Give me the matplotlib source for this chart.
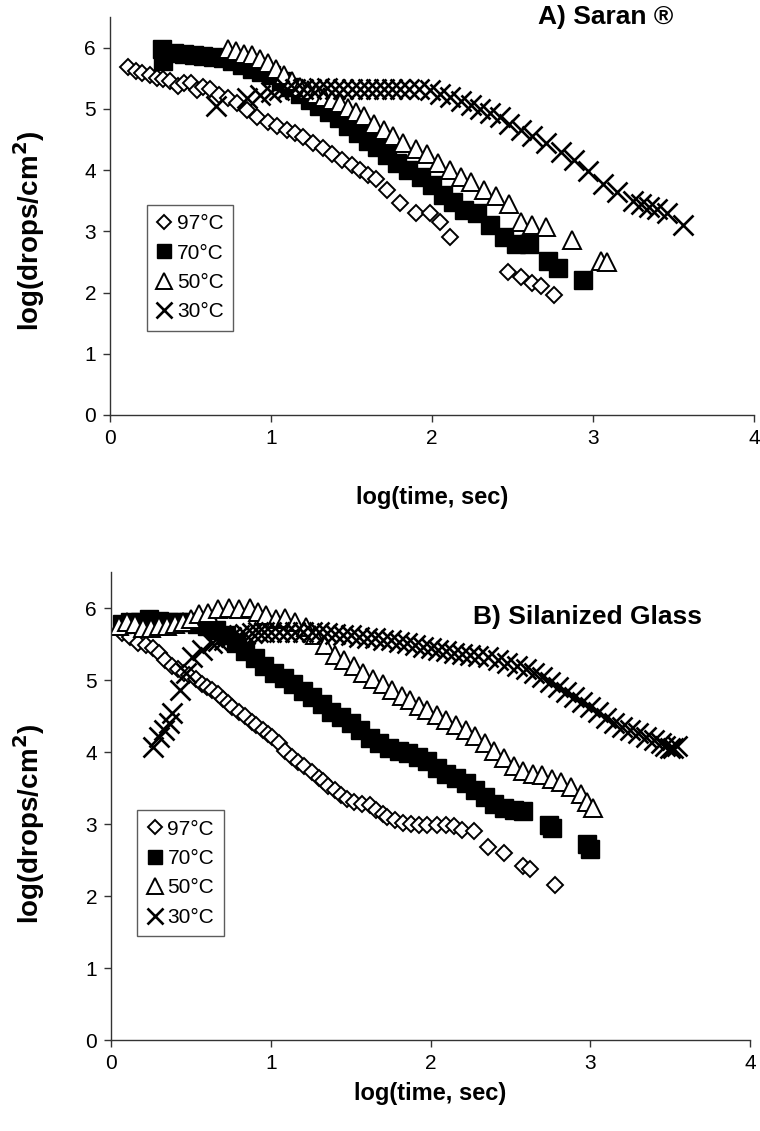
import matplotlib
matplotlib.use("Agg")
import matplotlib.pyplot as plt

plt.rcParams['font.family'] = ['Liberation Sans', 'DejaVu Sans']

# ---------------- Panel A: Saran ----------------
a97_x = [0.11, 0.16, 0.20, 0.25, 0.29, 0.33, 0.37, 0.42, 0.46, 0.50, 0.54, 0.58, 0.62, 0.68,
         0.73, 0.79, 0.85, 0.91, 0.98, 1.04, 1.10, 1.15, 1.20, 1.26, 1.32, 1.38, 1.44, 1.50,
         1.55, 1.60, 1.65, 1.72, 1.80, 1.90, 1.99, 2.05, 2.11, 2.47, 2.55, 2.62, 2.68, 2.76]
a97_y = [5.69, 5.62, 5.58, 5.55, 5.51, 5.48, 5.45, 5.38, 5.42, 5.43, 5.30, 5.35, 5.33, 5.22,
         5.18, 5.10, 4.98, 4.86, 4.78, 4.72, 4.65, 4.60, 4.54, 4.45, 4.36, 4.26, 4.16, 4.08,
         4.00, 3.92, 3.85, 3.68, 3.47, 3.30, 3.30, 3.15, 2.90, 2.33, 2.25, 2.15, 2.10, 1.96]

a70_x = [0.32, 0.33, 0.40, 0.46, 0.52, 0.58, 0.64, 0.70, 0.76, 0.82, 0.88, 0.94, 1.00, 1.06,
         1.12, 1.18, 1.24, 1.30, 1.36, 1.42, 1.48, 1.54, 1.60, 1.66, 1.72, 1.78, 1.85, 1.93,
         2.00, 2.07, 2.13, 2.20, 2.28, 2.36, 2.45, 2.52, 2.60, 2.72, 2.78, 2.94]
a70_y = [5.97, 5.78, 5.92, 5.90, 5.88, 5.87, 5.85, 5.83, 5.78, 5.72, 5.65, 5.60, 5.55, 5.45,
         5.35, 5.25, 5.15, 5.05, 4.95, 4.85, 4.72, 4.60, 4.48, 4.38, 4.25, 4.12, 4.00, 3.88,
         3.75, 3.60, 3.48, 3.35, 3.30, 3.10, 2.90, 2.80, 2.80, 2.52, 2.40, 2.20]

a50_x = [0.73, 0.78, 0.83, 0.88, 0.93, 0.98, 1.03, 1.08, 1.13, 1.18, 1.23, 1.28, 1.33, 1.38,
         1.43, 1.48, 1.53, 1.58, 1.64, 1.70, 1.76, 1.82, 1.90, 1.97, 2.04, 2.11, 2.18, 2.24,
         2.32, 2.40, 2.48, 2.55, 2.62, 2.71, 2.87, 3.05, 3.09]
a50_y = [5.98, 5.95, 5.90, 5.88, 5.82, 5.75, 5.65, 5.55, 5.45, 5.35, 5.30, 5.25, 5.20, 5.15,
         5.10, 5.02, 4.95, 4.88, 4.75, 4.65, 4.55, 4.45, 4.35, 4.27, 4.12, 4.00, 3.88, 3.80,
         3.68, 3.58, 3.45, 3.15, 3.10, 3.07, 2.85, 2.52, 2.50]

a30_x = [0.66, 0.85, 0.93, 1.00, 1.05, 1.10, 1.15, 1.20, 1.25, 1.30, 1.35, 1.40, 1.45, 1.50,
         1.55, 1.60, 1.65, 1.70, 1.75, 1.80, 1.86, 1.92, 1.99, 2.05, 2.11, 2.18, 2.24, 2.30,
         2.36, 2.42, 2.48, 2.55, 2.62, 2.71, 2.80, 2.88, 2.97, 3.06, 3.15, 3.25, 3.30, 3.35,
         3.40, 3.46, 3.56]
a30_y = [5.05, 5.17, 5.22, 5.27, 5.30, 5.32, 5.33, 5.33, 5.33, 5.34, 5.34, 5.33, 5.33, 5.33,
         5.33, 5.32, 5.32, 5.32, 5.32, 5.33, 5.33, 5.32, 5.30, 5.25, 5.19, 5.12, 5.06, 4.99,
         4.93, 4.86, 4.76, 4.65, 4.55, 4.44, 4.30, 4.16, 3.98, 3.78, 3.65, 3.50, 3.45, 3.40,
         3.37, 3.30, 3.10]

# ---------------- Panel B: Silanized Glass ----------------
b97_x = [0.07, 0.12, 0.17, 0.22, 0.26, 0.30, 0.34, 0.38, 0.42, 0.46, 0.49, 0.53, 0.57, 0.60,
         0.63, 0.67, 0.70, 0.73, 0.76, 0.80, 0.84, 0.88, 0.91, 0.95, 0.98, 1.01, 1.05, 1.09,
         1.13, 1.17, 1.21, 1.26, 1.30, 1.33, 1.36, 1.40, 1.44, 1.48, 1.52, 1.57, 1.62, 1.66,
         1.70, 1.73, 1.78, 1.83, 1.88, 1.93, 1.98, 2.04, 2.10, 2.15, 2.20, 2.27, 2.36, 2.46,
         2.58, 2.62, 2.78]
b97_y = [5.65, 5.60, 5.52, 5.48, 5.45, 5.38, 5.28, 5.20, 5.15, 5.10, 5.07, 5.02, 4.95, 4.90,
         4.86, 4.80, 4.74, 4.68, 4.63, 4.56, 4.50, 4.42, 4.37, 4.30, 4.25, 4.21, 4.12, 4.02,
         3.93, 3.86, 3.80, 3.72, 3.64, 3.60, 3.53, 3.47, 3.40, 3.35, 3.30, 3.28, 3.26, 3.20,
         3.14, 3.10, 3.05, 3.01, 3.00, 2.98, 2.99, 2.99, 2.99, 2.97, 2.92, 2.90, 2.68, 2.60,
         2.42, 2.37, 2.15]

b70_x = [0.07, 0.12, 0.18, 0.24, 0.30, 0.36, 0.42, 0.48, 0.54, 0.60, 0.66, 0.72, 0.78, 0.84,
         0.90, 0.96, 1.02, 1.08, 1.14, 1.20, 1.26, 1.32, 1.38, 1.44, 1.50, 1.56, 1.62, 1.68,
         1.74, 1.80, 1.86, 1.92, 1.98, 2.04, 2.10, 2.16, 2.22, 2.28, 2.34, 2.40, 2.46, 2.52,
         2.58, 2.74, 2.76, 2.98, 3.00]
b70_y = [5.78, 5.80, 5.80, 5.85, 5.82, 5.80, 5.80, 5.80, 5.78, 5.75, 5.70, 5.62, 5.52, 5.40,
         5.30, 5.20, 5.10, 5.03, 4.95, 4.85, 4.76, 4.66, 4.56, 4.48, 4.40, 4.30, 4.20, 4.12,
         4.06, 4.02, 3.98, 3.93, 3.88, 3.78, 3.70, 3.64, 3.57, 3.47, 3.37, 3.28, 3.22, 3.20,
         3.18, 2.98, 2.95, 2.72, 2.65]

b50_x = [0.05, 0.10, 0.15, 0.20, 0.25, 0.30, 0.35, 0.40, 0.45, 0.50, 0.55, 0.61, 0.67, 0.74,
         0.80, 0.87, 0.92, 0.97, 1.03, 1.09, 1.15, 1.22, 1.28, 1.34, 1.40, 1.46, 1.52, 1.58,
         1.64, 1.70, 1.76, 1.82, 1.87, 1.93, 1.98, 2.04, 2.10, 2.16, 2.22, 2.28, 2.34, 2.40,
         2.46, 2.52, 2.58, 2.64, 2.70, 2.76, 2.82, 2.88, 2.94, 2.98, 3.02]
b50_y = [5.75, 5.80, 5.78, 5.72, 5.72, 5.75, 5.75, 5.78, 5.80, 5.85, 5.92, 5.93, 5.98, 6.00,
         5.98, 6.00, 5.95, 5.90, 5.85, 5.86, 5.80, 5.74, 5.62, 5.48, 5.35, 5.28, 5.20, 5.10,
         5.02, 4.94, 4.86, 4.78, 4.72, 4.64, 4.58, 4.52, 4.44, 4.37, 4.30, 4.22, 4.12, 4.02,
         3.92, 3.80, 3.74, 3.70, 3.68, 3.62, 3.58, 3.52, 3.42, 3.30, 3.22]

b30_x = [0.26, 0.30, 0.33, 0.36, 0.38, 0.43, 0.47, 0.51, 0.57, 0.63, 0.67, 0.71, 0.75, 0.80,
         0.84, 0.88, 0.92, 0.96, 1.00, 1.05, 1.10, 1.15, 1.20, 1.26, 1.30, 1.35, 1.40, 1.45,
         1.50, 1.55, 1.60, 1.65, 1.70, 1.75, 1.80, 1.85, 1.90, 1.95, 2.00, 2.05, 2.10, 2.15,
         2.20, 2.25, 2.30, 2.36, 2.42, 2.48, 2.54, 2.60, 2.65, 2.70, 2.75, 2.80, 2.85, 2.90,
         2.95, 3.00, 3.05, 3.10, 3.15, 3.20, 3.25, 3.30, 3.35, 3.40, 3.44, 3.47, 3.50, 3.52,
         3.54]
b30_y = [4.07, 4.21, 4.30, 4.40, 4.54, 4.86, 5.10, 5.32, 5.42, 5.51, 5.54, 5.56, 5.60, 5.62,
         5.64, 5.65, 5.66, 5.66, 5.67, 5.67, 5.67, 5.67, 5.67, 5.67, 5.66, 5.65, 5.64, 5.63,
         5.62, 5.60, 5.59, 5.58, 5.56, 5.55, 5.53, 5.51, 5.49, 5.46, 5.44, 5.42, 5.40, 5.38,
         5.36, 5.35, 5.33, 5.32, 5.28, 5.24, 5.20, 5.15, 5.10, 5.04, 4.97, 4.90, 4.83, 4.77,
         4.70, 4.63, 4.55, 4.47, 4.40, 4.35, 4.30, 4.26, 4.21, 4.16, 4.12, 4.08, 4.05, 4.05,
         4.08]

labels = ["97°C", "70°C", "50°C", "30°C"]
xticks = [0, 1, 2, 3, 4]
yticks = [0, 1, 2, 3, 4, 5, 6]

W, H = 760, 1131
fig = plt.figure(figsize=(W / 100, H / 100), dpi=100)
ax1 = fig.add_axes([110 / W, 1 - 415 / H, 644 / W, 398 / H])
ax2 = fig.add_axes([111 / W, 1 - 1040 / H, 639 / W, 468 / H])

styles = [
    dict(marker='D', ms=8.5, mfc='white', mec='black', mew=1.4, ls='none'),
    dict(marker='s', ms=12.5, mfc='black', mec='black', mew=1.0, ls='none'),
    dict(marker='^', ms=13, mfc='white', mec='black', mew=1.4, ls='none'),
    dict(marker='x', ms=14, mfc='none', mec='black', mew=1.9, ls='none'),
]


def draw(ax, series, title, tx, ty, leg_xy, ylab_x, xlab_y):
    for (x, y), st, lab in zip(series, styles, labels):
        ax.plot(x, y, label=lab, **st)
    ax.set_xlim(0, 4)
    ax.set_ylim(0, 6.5)
    ax.set_xticks(xticks)
    ax.set_yticks(yticks)
    for s in ['top', 'right']:
        ax.spines[s].set_visible(False)
    for s in ['left', 'bottom']:
        ax.spines[s].set_color('#333333')
        ax.spines[s].set_linewidth(1.0)
    ax.tick_params(direction='out', length=5, width=1.0, color='#333333',
                   labelsize=15, pad=5)
    ax.text(tx, ty, title, transform=ax.transAxes, ha='center', va='center',
            fontsize=19, fontweight='bold')
    ax.set_ylabel("log(drops/cm$^\\mathbf{2}$)", fontsize=20, fontweight='bold')
    ax.yaxis.set_label_coords(ylab_x, 6 / 6.5 / 2)
    ax.set_xlabel("log(time, sec)", fontsize=17, fontweight='bold')
    ax.xaxis.set_label_coords(0.5, xlab_y)
    leg = ax.legend(loc='upper left', bbox_to_anchor=leg_xy, borderaxespad=0,
                    frameon=True, fancybox=False, fontsize=15, handlelength=0.8,
                    handletextpad=0.2, labelspacing=0.5, borderpad=0.45,
                    markerscale=0.85)
    leg.get_frame().set_edgecolor('#333333')
    leg.get_frame().set_linewidth(1.0)


draw(ax1, [(a97_x, a97_y), (a70_x, a70_y), (a50_x, a50_y), (a30_x, a30_y)],
     "A) Saran ®", 0.770, 1.0, (0.057, 0.528), -0.098, -0.178)

draw(ax2, [(b97_x, b97_y), (b70_x, b70_y), (b50_x, b50_y), (b30_x, b30_y)],
     "B) Silanized Glass", 0.746, 0.903, (0.041, 0.491), -0.10, -0.09)

fig.savefig("out.png", dpi=100)
